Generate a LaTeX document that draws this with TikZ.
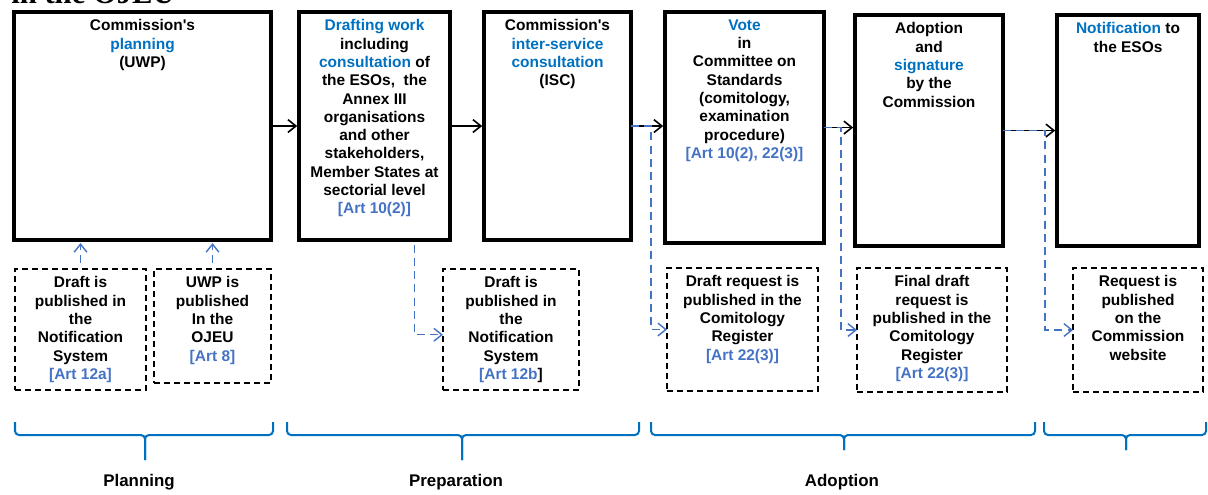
\documentclass[tikz,border=0pt]{standalone}
\usepackage{fontspec}
\setmainfont{Liberation Sans}
\newfontfamily\headfont{Liberation Serif}
\usetikzlibrary{arrows.meta,positioning}
\definecolor{keyblue}{RGB}{0,112,192}
\definecolor{artblue}{RGB}{68,114,196}
\tikzstyle{stage}=[rectangle,draw=black,line width=0.09cm,anchor=north west,
inner sep=0pt,outer sep=0pt]
\tikzstyle{notice}=[rectangle,draw=black,line width=0.035cm,
dash pattern=on 0.15cm off 0.1cm,anchor=north west,inner sep=0pt,outer sep=0pt]
\tikzstyle{boxtext}=[anchor=north,align=center,yshift=-0.07cm,
font=\fontsize{11}{13}\selectfont\bfseries]
\tikzstyle{flow}=[->,draw=black,line width=0.04cm,shorten >=0.045cm]
\tikzstyle{feed}=[->,draw=artblue,line width=0.035cm,dash pattern=on 0.2cm off 0.13cm]
\tikzstyle{phase}=[draw=keyblue,line width=0.05cm,rounded corners=0.1cm]
\tikzstyle{phaselabel}=[font=\fontsize{12}{14}\selectfont\bfseries]
\newcommand{\kw}[1]{\textcolor{keyblue}{#1}}
\newcommand{\art}[1]{\textcolor{artblue}{#1}}
\begin{document}
\begin{tikzpicture}[x=0.025cm,y=-0.025cm,>={Straight Barb[length=0.2cm,width=0.32cm]}]
            \useasboundingbox (0,0) rectangle (1208,494);
            \clip (0,0) rectangle (1208,494);

            % cut-off heading
            \node[anchor=base west,inner sep=0pt,font=\headfont\bfseries\fontsize{21.8}{24}\selectfont] (head) at (11,3) {in the OJEU};

            % STAGES

            \node[stage,minimum width=6.425cm,minimum height=5.7cm,
              label={[boxtext]north:{Commission\textquotesingle s\\\kw{planning}\\(UWP)}}] (b1) at (14,12) {};
            \node[stage,minimum width=3.775cm,minimum height=5.7cm,
              label={[boxtext]north:{\kw{Drafting work}\\including\\\kw{consultation} of\\the ESOs,\ \ the\\Annex III\\organisations\\and other\\stakeholders,\\Member States at\\sectorial level\\\art{[Art 10(2)]}}}] (b2) at (299,12) {};
            \node[stage,minimum width=3.675cm,minimum height=5.7cm,
              label={[boxtext]north:{Commission\textquotesingle s\\\kw{inter-service}\\\kw{consultation}\\(ISC)}}] (b3) at (484,12) {};
            \node[stage,minimum width=3.975cm,minimum height=5.775cm,
              label={[boxtext]north:{\kw{Vote}\\in\\Committee on\\Standards\\(comitology,\\examination\\procedure)\\\art{[Art 10(2), 22(3)]}}}] (b4) at (665,12) {};
            \node[stage,minimum width=3.7cm,minimum height=5.775cm,
              label={[boxtext]north:{Adoption\\and\\\kw{signature}\\by the\\Commission}}] (b5) at (855,15) {};
            \node[stage,minimum width=3.55cm,minimum height=5.775cm,
              label={[boxtext]north:{\kw{Notification} to\\the ESOs}}] (b6) at (1057,15) {};

            % PUBLICATIONS

            \node[notice,minimum width=3.275cm,minimum height=3.025cm,
              label={[boxtext]north:{Draft is\\published in\\the\\Notification\\System\\\art{[Art 12a]}}}] (d1) at (15,269) {};
            \node[notice,minimum width=2.925cm,minimum height=2.85cm,
              label={[boxtext]north:{UWP is\\published\\In the\\OJEU\\\art{[Art 8]}}}] (d2) at (154,269) {};
            \node[notice,minimum width=3.4cm,minimum height=3.025cm,
              label={[boxtext]north:{Draft is\\published in\\the\\Notification\\System\\\art{[Art 12b}]}}] (d3) at (443,269) {};
            \node[notice,minimum width=3.775cm,minimum height=3.075cm,
              label={[boxtext]north:{Draft request is\\published in the\\Comitology\\Register\\\art{[Art 22(3)]}}}] (d4) at (667,268) {};
            \node[notice,minimum width=3.75cm,minimum height=3.1cm,
              label={[boxtext]north:{Final draft\\request is\\published in the\\Comitology\\Register\\\art{[Art 22(3)]}}}] (d5) at (857,268) {};
            \node[notice,minimum width=3.25cm,minimum height=3.1cm,
              label={[boxtext]north:{Request is\\published\\on the\\Commission\\website}}] (d6) at (1073,268) {};

            % main flow
            \draw[flow] (b1) -- (b2);
            \draw[flow] (b2) -- (b3);
            \draw[flow] (b3.east) -- (b3.east -| b4.west);
            \draw[flow] (b4.east) -- (b4.east -| b5.west);
            \draw[flow] (b5) -- (b6);

            % publication links
            \draw[feed,shorten <=0.15cm,shorten >=0.075cm] (d1.north) -- (d1.north |- b1.south);
            \draw[feed,shorten <=0.15cm,shorten >=0.075cm] (d2.north) -- (d2.north |- b1.south);
            \draw[feed,shorten <=0.12cm] ([xshift=1cm]b2.south) |- ([yshift=-0.13cm]d3.west);
            \draw[feed] (b3.east) -| ([xshift=-0.4cm]d4.west) -- (d4.west);
            \draw[feed] (b4.east) -| ([xshift=-0.4cm]d5.west) -- (d5.west);
            \draw[feed] (b5.east) -| ([xshift=-0.7cm]d6.west) -- (d6.west);

            % PHASES

            \draw[phase] (15,422) |- (145,435) -- (145,460);
            \draw[phase] (273,422) |- (145,435) -- (145,460);
            \draw[phase] (287,422) |- (462,435) -- (462,460);
            \draw[phase] (639,422) |- (462,435) -- (462,460);
            \draw[phase] (651,422) |- (844,435) -- (844,450);
            \draw[phase] (1035,422) |- (844,435) -- (844,450);
            \draw[phase] (1044,422) |- (1126,435) -- (1126,450);
            \draw[phase] (1206,422) |- (1126,435) -- (1126,450);

            \node[phaselabel] (planning) at (139,482) {Planning};
            \node[phaselabel] (preparation) at (456,482) {Preparation};
            \node[phaselabel] (adoption) at (842,482) {Adoption};

\end{tikzpicture}
\end{document}
